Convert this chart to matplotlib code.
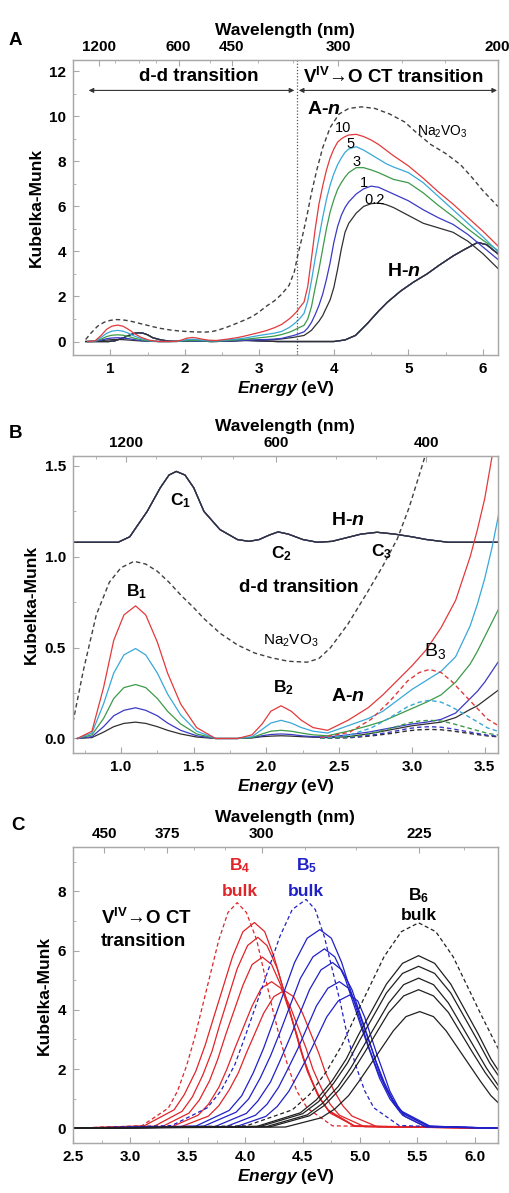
import numpy as np
import matplotlib
matplotlib.use("Agg")
import matplotlib.pyplot as plt

plt.rcParams.update({
    "font.family": "Liberation Sans",
    "font.weight": "bold",
    "axes.labelweight": "bold",
    "font.size": 11,
    "mathtext.fontset": "custom",
    "mathtext.rm": "Liberation Sans:bold",
    "mathtext.it": "Liberation Sans:italic:bold",
    "mathtext.bf": "Liberation Sans:bold",
})

# ---------------- panel A / B : measured spectra (energy in eV, Kubelka-Munk) ----------
an_energy = [0.70, 0.80, 0.88, 0.95, 1.02, 1.10, 1.17, 1.25, 1.32, 1.41,
             1.52, 1.65, 1.80, 1.90, 1.97, 2.03, 2.10, 2.17, 2.24, 2.32,
             2.42, 2.56, 2.70, 2.80, 2.90, 3.00, 3.10, 3.20, 3.30, 3.40,
             3.45, 3.50, 3.55, 3.60, 3.65, 3.70, 3.75, 3.80, 3.85, 3.90,
             3.95, 4.00, 4.05, 4.10, 4.15, 4.20, 4.30, 4.40, 4.50, 4.60,
             4.70, 4.80, 5.00, 5.20, 5.40, 5.60, 5.80, 6.00, 6.20]
an_labels = ["0.2", "1", "3", "5", "10"]
an_km = [
    # A-0.2
    [0.00, 0.005, 0.035, 0.065, 0.083, 0.09, 0.083, 0.065, 0.045, 0.025,
     0.008, 0.00, 0.00, 0.003, 0.01, 0.013, 0.015, 0.013, 0.01, 0.007,
     0.005, 0.01, 0.025, 0.04, 0.055, 0.07, 0.08, 0.09, 0.115, 0.16,
     0.18, 0.21, 0.24, 0.27, 0.38, 0.50, 0.70, 0.90, 1.15, 1.50,
     1.85, 2.40, 3.20, 4.10, 4.85, 5.25, 5.70, 6.00, 6.12, 6.15,
     6.08, 5.95, 5.60, 5.25, 5.05, 4.85, 4.45, 3.90, 3.25],
    # A-1
    [0.00, 0.01, 0.065, 0.125, 0.155, 0.169, 0.155, 0.125, 0.085, 0.045,
     0.015, 0.00, 0.00, 0.005, 0.015, 0.022, 0.025, 0.022, 0.015, 0.01,
     0.008, 0.02, 0.035, 0.05, 0.065, 0.08, 0.09, 0.105, 0.14, 0.22,
     0.26, 0.31, 0.37, 0.43, 0.60, 0.85, 1.20, 1.60, 2.10, 2.75,
     3.50, 4.40, 5.10, 5.60, 5.95, 6.20, 6.55, 6.78, 6.90, 6.85,
     6.70, 6.55, 6.25, 5.85, 5.50, 5.20, 4.75, 4.20, 3.65],
    # A-3
    [0.00, 0.02, 0.11, 0.22, 0.28, 0.297, 0.28, 0.22, 0.15, 0.08,
     0.025, 0.00, 0.00, 0.005, 0.025, 0.04, 0.045, 0.04, 0.03, 0.02,
     0.015, 0.04, 0.07, 0.095, 0.13, 0.165, 0.20, 0.24, 0.31, 0.41,
     0.48, 0.56, 0.64, 0.72, 1.00, 1.55, 2.40, 3.20, 4.10, 5.00,
     5.75, 6.30, 6.75, 7.05, 7.30, 7.50, 7.72, 7.72, 7.62, 7.50,
     7.35, 7.20, 7.05, 6.60, 6.05, 5.55, 5.00, 4.50, 4.05],
    # A-5
    [0.00, 0.03, 0.19, 0.36, 0.46, 0.495, 0.46, 0.36, 0.245, 0.13,
     0.04, 0.00, 0.00, 0.01, 0.05, 0.085, 0.10, 0.085, 0.06, 0.04,
     0.03, 0.07, 0.11, 0.15, 0.21, 0.27, 0.32, 0.37, 0.45, 0.62,
     0.74, 0.88, 1.05, 1.25, 1.80, 2.70, 3.70, 4.60, 5.50, 6.30,
     6.95, 7.45, 7.85, 8.15, 8.40, 8.55, 8.65, 8.50, 8.30, 8.10,
     7.90, 7.75, 7.50, 7.05, 6.45, 5.85, 5.25, 4.65, 4.00],
    # A-10
    [0.00, 0.04, 0.28, 0.54, 0.68, 0.73, 0.68, 0.53, 0.36, 0.19,
     0.06, 0.00, 0.00, 0.02, 0.08, 0.15, 0.18, 0.15, 0.10, 0.06,
     0.045, 0.10, 0.17, 0.24, 0.32, 0.40, 0.49, 0.61, 0.76, 1.00,
     1.15, 1.32, 1.55, 1.75, 2.45, 3.70, 5.00, 6.10, 6.90, 7.60,
     8.15, 8.55, 8.85, 9.00, 9.10, 9.17, 9.20, 9.10, 8.95, 8.75,
     8.50, 8.25, 7.80, 7.25, 6.65, 6.10, 5.50, 4.90, 4.25],
]

hn_energy = [0.67, 0.98, 1.06, 1.18, 1.27, 1.33, 1.38, 1.44, 1.50, 1.57,
             1.68, 1.80, 1.88, 1.95, 2.02, 2.08, 2.15, 2.25, 2.35, 2.45,
             2.55, 2.65, 2.76, 2.88, 3.00, 3.10, 3.25, 3.50, 4.00, 4.15,
             4.29, 4.45, 4.60, 4.72, 4.90, 5.07, 5.25, 5.41, 5.60, 5.76,
             5.93, 6.05, 6.20]
hn_km = [0.00, 0.00, 0.03, 0.17, 0.30, 0.37, 0.39, 0.37, 0.30, 0.17,
         0.07, 0.015, 0.005, 0.015, 0.04, 0.057, 0.045, 0.015, 0.00, 0.005,
         0.025, 0.045, 0.055, 0.045, 0.03, 0.015, 0.00, 0.00, 0.00, 0.07,
         0.27, 0.80, 1.35, 1.75, 2.25, 2.64, 3.00, 3.38, 3.80, 4.10,
         4.40, 4.30, 3.90]
hn_offset_b = 1.08

na_energy = [0.67, 0.74, 0.83, 0.92, 1.00, 1.09, 1.17, 1.25, 1.33, 1.41,
             1.50, 1.57, 1.68, 1.80, 1.92, 2.03, 2.15, 2.28, 2.36, 2.44,
             2.56, 2.69, 2.80, 2.90, 2.98, 3.05, 3.10, 3.20, 3.30, 3.40,
             3.47, 3.52, 3.58, 3.64, 3.70, 3.77, 3.85, 3.95, 4.07, 4.20,
             4.37, 4.55, 4.75, 4.95, 5.10, 5.30, 5.50, 5.70, 5.85, 6.00,
             6.20]
na_km = [0.09, 0.37, 0.68, 0.86, 0.94, 0.975, 0.96, 0.92, 0.86, 0.79,
         0.72, 0.66, 0.58, 0.515, 0.47, 0.445, 0.425, 0.42, 0.44, 0.50,
         0.63, 0.80, 0.95, 1.10, 1.27, 1.45, 1.58, 1.80, 2.10, 2.50,
         3.10, 3.90, 4.70, 5.60, 6.60, 7.60, 8.60, 9.50, 10.10, 10.35,
         10.42, 10.35, 10.10, 9.75, 9.30, 8.75, 8.35, 7.85, 7.30, 6.70,
         6.00]

# B3 band of each A-n sample (panel B, dashed)
b3_energy = [2.37, 2.57, 2.72, 2.85, 2.97, 3.05, 3.12, 3.20, 3.27, 3.40, 3.52, 3.67, 3.87]
b3_km = [
    [0.001, 0.004, 0.014, 0.027, 0.042, 0.048, 0.05, 0.048, 0.042, 0.027, 0.014, 0.004, 0.001],
    [0.001, 0.006, 0.018, 0.035, 0.054, 0.062, 0.065, 0.062, 0.054, 0.035, 0.018, 0.006, 0.001],
    [0.001, 0.009, 0.028, 0.055, 0.084, 0.096, 0.10, 0.096, 0.084, 0.055, 0.028, 0.009, 0.001],
    [0.002, 0.019, 0.058, 0.115, 0.175, 0.20, 0.21, 0.20, 0.175, 0.115, 0.058, 0.019, 0.002],
    [0.004, 0.034, 0.106, 0.207, 0.317, 0.363, 0.38, 0.363, 0.317, 0.207, 0.106, 0.034, 0.004],
]

# ---------------- panel C : V(IV)->O CT bands B4, B5, B6 (first = bulk) ----------------
b4_energy = [
    [2.50, 3.10, 3.33, 3.41, 3.49, 3.56, 3.63, 3.77, 3.85, 3.93, 4.01, 4.10, 4.23, 4.30, 4.37, 4.45, 4.54, 4.76, 6.20],
    [2.50, 3.12, 3.38, 3.47, 3.57, 3.65, 3.73, 3.89, 3.98, 4.08, 4.17, 4.25, 4.40, 4.47, 4.54, 4.63, 4.72, 4.95, 6.20],
    [2.50, 3.21, 3.45, 3.54, 3.63, 3.71, 3.78, 3.93, 4.02, 4.11, 4.19, 4.28, 4.42, 4.49, 4.56, 4.64, 4.73, 4.95, 6.20],
    [2.50, 3.28, 3.51, 3.60, 3.69, 3.76, 3.83, 3.98, 4.06, 4.15, 4.23, 4.31, 4.45, 4.51, 4.58, 4.66, 4.74, 4.96, 6.20],
    [2.50, 3.36, 3.59, 3.68, 3.77, 3.84, 3.91, 4.06, 4.14, 4.23, 4.31, 4.39, 4.53, 4.59, 4.66, 4.74, 4.82, 5.04, 6.20],
    [2.50, 3.44, 3.68, 3.77, 3.86, 3.94, 4.01, 4.16, 4.25, 4.34, 4.42, 4.50, 4.64, 4.70, 4.77, 4.85, 4.93, 5.15, 6.20],
]
b4_km = [
    [0, 0.08, 0.68, 1.25, 2.12, 3.06, 4.16, 6.36, 7.29, 7.62, 7.29, 6.36, 4.16, 3.06, 2.12, 1.25, 0.68, 0.08, 0],
    [0, 0.08, 0.62, 1.14, 1.93, 2.79, 3.80, 5.80, 6.64, 6.95, 6.64, 5.80, 3.80, 2.79, 1.93, 1.14, 0.62, 0.08, 0],
    [0, 0.07, 0.57, 1.06, 1.79, 2.59, 3.52, 5.39, 6.17, 6.45, 6.17, 5.39, 3.52, 2.59, 1.79, 1.06, 0.57, 0.07, 0],
    [0, 0.06, 0.51, 0.95, 1.61, 2.32, 3.16, 4.83, 5.53, 5.78, 5.53, 4.83, 3.16, 2.32, 1.61, 0.95, 0.51, 0.06, 0],
    [0, 0.05, 0.44, 0.81, 1.38, 1.99, 2.70, 4.13, 4.73, 4.95, 4.73, 4.13, 2.70, 1.99, 1.38, 0.81, 0.44, 0.05, 0],
    [0, 0.05, 0.41, 0.76, 1.29, 1.87, 2.54, 3.88, 4.45, 4.65, 4.45, 3.88, 2.54, 1.87, 1.29, 0.76, 0.41, 0.05, 0],
]
b5_energy = [
    [2.50, 3.36, 3.67, 3.79, 3.91, 4.00, 4.10, 4.30, 4.41, 4.53, 4.61, 4.69, 4.83, 4.89, 4.96, 5.04, 5.12, 5.34, 6.20],
    [2.50, 3.57, 3.86, 3.97, 4.07, 4.16, 4.25, 4.43, 4.54, 4.65, 4.75, 4.84, 5.00, 5.08, 5.16, 5.26, 5.35, 5.61, 6.20],
    [2.50, 3.64, 3.92, 4.03, 4.13, 4.22, 4.31, 4.48, 4.59, 4.69, 4.78, 4.87, 5.02, 5.10, 5.17, 5.26, 5.35, 5.59, 6.20],
    [2.50, 3.74, 4.01, 4.11, 4.22, 4.30, 4.39, 4.56, 4.66, 4.76, 4.84, 4.93, 5.07, 5.14, 5.21, 5.29, 5.38, 5.60, 6.20],
    [2.50, 3.83, 4.09, 4.19, 4.29, 4.37, 4.46, 4.62, 4.72, 4.82, 4.90, 4.97, 5.10, 5.16, 5.22, 5.30, 5.37, 5.57, 6.20],
    [2.50, 3.92, 4.18, 4.28, 4.38, 4.46, 4.55, 4.71, 4.81, 4.91, 4.98, 5.04, 5.15, 5.21, 5.26, 5.33, 5.39, 5.57, 6.20],
]
b5_km = [
    [0, 0.09, 0.69, 1.27, 2.15, 3.11, 4.22, 6.46, 7.39, 7.73, 7.39, 6.46, 4.22, 3.11, 2.15, 1.27, 0.69, 0.09, 0],
    [0, 0.07, 0.60, 1.10, 1.87, 2.70, 3.66, 5.60, 6.42, 6.71, 6.42, 5.60, 3.66, 2.70, 1.87, 1.10, 0.60, 0.07, 0],
    [0, 0.07, 0.54, 0.99, 1.69, 2.44, 3.31, 5.06, 5.79, 6.06, 5.79, 5.06, 3.31, 2.44, 1.69, 0.99, 0.54, 0.07, 0],
    [0, 0.06, 0.50, 0.92, 1.56, 2.25, 3.06, 4.68, 5.35, 5.60, 5.35, 4.68, 3.06, 2.25, 1.56, 0.92, 0.50, 0.06, 0],
    [0, 0.05, 0.44, 0.81, 1.38, 1.99, 2.70, 4.13, 4.73, 4.95, 4.73, 4.13, 2.70, 1.99, 1.38, 0.81, 0.44, 0.05, 0],
    [0, 0.05, 0.40, 0.74, 1.25, 1.81, 2.46, 3.76, 4.30, 4.50, 4.30, 3.76, 2.46, 1.81, 1.25, 0.74, 0.40, 0.05, 0],
]
b6_energy = [
    [2.50, 4.01, 4.41, 4.56, 4.71, 4.84, 4.96, 5.21, 5.36, 5.51, 5.66, 5.81, 6.06, 6.19, 6.31, 6.46, 6.61, 7.01],
    [2.50, 4.10, 4.48, 4.62, 4.76, 4.88, 4.99, 5.23, 5.37, 5.51, 5.65, 5.79, 6.03, 6.14, 6.26, 6.40, 6.54, 6.92],
    [2.50, 4.13, 4.50, 4.64, 4.77, 4.89, 5.00, 5.23, 5.37, 5.51, 5.65, 5.79, 6.02, 6.13, 6.25, 6.38, 6.52, 6.89],
    [2.50, 4.19, 4.54, 4.67, 4.81, 4.92, 5.03, 5.25, 5.38, 5.51, 5.64, 5.77, 5.99, 6.10, 6.21, 6.35, 6.48, 6.83],
    [2.50, 4.22, 4.56, 4.69, 4.82, 4.93, 5.04, 5.25, 5.38, 5.51, 5.64, 5.77, 5.98, 6.09, 6.20, 6.33, 6.46, 6.80],
    [2.50, 4.35, 4.66, 4.78, 4.90, 4.99, 5.09, 5.29, 5.40, 5.52, 5.64, 5.75, 5.95, 6.05, 6.14, 6.26, 6.38, 6.69],
]
b6_km = [
    [0, 0.08, 0.62, 1.14, 1.93, 2.79, 3.79, 5.80, 6.64, 6.94, 6.64, 5.80, 3.79, 2.79, 1.93, 1.14, 0.62, 0.08],
    [0, 0.06, 0.52, 0.96, 1.62, 2.34, 3.18, 4.87, 5.57, 5.83, 5.57, 4.87, 3.18, 2.34, 1.62, 0.96, 0.52, 0.06],
    [0, 0.06, 0.49, 0.90, 1.52, 2.20, 2.99, 4.57, 5.23, 5.47, 5.23, 4.57, 2.99, 2.20, 1.52, 0.90, 0.49, 0.06],
    [0, 0.06, 0.45, 0.83, 1.41, 2.04, 2.77, 4.23, 4.85, 5.07, 4.85, 4.23, 2.77, 2.04, 1.41, 0.83, 0.45, 0.06],
    [0, 0.05, 0.42, 0.77, 1.30, 1.88, 2.56, 3.91, 4.47, 4.68, 4.47, 3.91, 2.56, 1.88, 1.30, 0.77, 0.42, 0.05],
    [0, 0.04, 0.35, 0.65, 1.10, 1.58, 2.15, 3.29, 3.77, 3.94, 3.77, 3.29, 2.15, 1.58, 1.10, 0.65, 0.35, 0.04],
]

an_colors = ["#303030", "#3a3ac4", "#3c9a48", "#38a8d8", "#e23a3c"]
hn_colors = ["#e23a3c", "#3c9a48", "#38a8d8", "#5a3ab8", "#303030"]
dash = (0, (3.2, 2.2))
frame = "#a8a8a8"


def style(ax, xlim, ylim, xticks, yticks, xminor, yminor, xfmt, yfmt,
          wl_major, wl_minor):
    ax.set_xlim(xlim)
    ax.set_ylim(ylim)
    ax.set_xticks(xticks)
    ax.set_xticks(xminor, minor=True)
    ax.set_yticks(yticks)
    ax.set_yticks(yminor, minor=True)
    ax.set_xticklabels([xfmt.format(t) for t in xticks], fontweight="bold")
    ax.set_yticklabels([yfmt.format(t) for t in yticks], fontweight="bold")
    ax.tick_params(which="both", direction="in", color=frame, labelsize=11, pad=5)
    ax.tick_params(which="major", length=4)
    ax.tick_params(which="minor", length=2.5)
    ax.set_ylabel("Kubelka-Munk", fontsize=12.5, labelpad=4)
    ax.set_xlabel(r"$\it{Energy}$ (eV)", fontsize=12.5, labelpad=2)
    for s in ax.spines.values():
        s.set_color(frame)
        s.set_linewidth(0.9)

    top = ax.twiny()
    top.set_xlim(xlim)
    top.set_xticks([1239.84 / w for w in wl_major])
    top.set_xticklabels([str(w) for w in wl_major], fontweight="bold")
    top.set_xticks([1239.84 / w for w in wl_minor], minor=True)
    top.tick_params(which="both", direction="in", color=frame, labelsize=11, pad=4)
    top.tick_params(which="major", length=4)
    top.tick_params(which="minor", length=2.5)
    top.set_xlabel("Wavelength (nm)", fontsize=12.5, labelpad=4)
    for s in top.spines.values():
        s.set_color(frame)
        s.set_linewidth(0.9)


fig = plt.figure(figsize=(5.09, 11.93), dpi=100)
ax_a = fig.add_axes([0.1434, 0.7024, 0.8346, 0.2473])
ax_b = fig.add_axes([0.1434, 0.3688, 0.8346, 0.2490])
ax_c = fig.add_axes([0.1434, 0.0419, 0.8346, 0.2481])

# ---- panel A
for c in hn_colors:
    ax_a.plot(hn_energy, hn_km, color=c, lw=0.9)
for km, c in zip(an_km, an_colors):
    ax_a.plot(an_energy, km, color=c, lw=0.9)
ax_a.plot(na_energy, na_km, color="#404040", lw=1.0, ls=dash)
ax_a.axvline(3.5, color="#555555", lw=0.9, ls=(0, (1, 1.5)))
arrow = dict(arrowstyle="<|-|>", lw=0.8, color="#333333", mutation_scale=7,
             shrinkA=0, shrinkB=0)
ax_a.annotate("", xy=(0.71, 11.15), xytext=(3.47, 11.15), arrowprops=arrow)
ax_a.annotate("", xy=(3.53, 11.15), xytext=(6.19, 11.15), arrowprops=arrow)
ax_a.text(2.19, 11.75, "d-d transition", ha="center", va="center", fontsize=13.5)
ax_a.text(4.80, 11.75, "V$^{\\mathregular{IV}}$→O CT transition", ha="center",
          va="center", fontsize=13.5)
ax_a.text(3.86, 10.3, r"A-$\it{n}$", ha="center", va="center", fontsize=14)
ax_a.text(5.45, 9.3, "Na$_\\mathregular{2}$VO$_\\mathregular{3}$", ha="center",
          va="center", fontsize=10, fontweight="normal")
ax_a.text(4.94, 3.1, r"H-$\it{n}$", ha="center", va="center", fontsize=14)
for lbl, (x, y) in zip(an_labels, [(4.55, 6.3), (4.4, 7.05), (4.31, 7.97),
                                   (4.23, 8.75), (4.13, 9.5)]):
    ax_a.text(x, y, lbl, ha="center", va="center", fontsize=10.5, fontweight="normal")
style(ax_a, (0.7, 6.2), (-0.6, 12.5), [1, 2, 3, 4, 5, 6], [0, 2, 4, 6, 8, 10, 12],
      np.arange(0.5, 6.3, 0.5), np.arange(-0, 12.6, 1), "{:.0f}", "{:.0f}",
      [1200, 600, 450, 300, 200], [1000, 800, 700, 500, 400, 350, 250, 225])

# ---- panel B
for c in hn_colors:
    ax_b.plot(hn_energy, np.array(hn_km) + hn_offset_b, color=c, lw=0.9)
for km, c in zip(an_km, an_colors):
    ax_b.plot(an_energy, km, color=c, lw=0.9)
for km, c in zip(b3_km, an_colors):
    ax_b.plot(b3_energy, km, color=c, lw=1.0, ls=dash)
ax_b.plot(na_energy, na_km, color="#404040", lw=1.0, ls=dash)
ax_b.text(1.41, 1.31, "C$_\\mathregular{1}$", ha="center", va="center", fontsize=12.5)
ax_b.text(2.10, 1.02, "C$_\\mathregular{2}$", ha="center", va="center", fontsize=12.5)
ax_b.text(2.79, 1.03, "C$_\\mathregular{3}$", ha="center", va="center", fontsize=12.5)
ax_b.text(2.56, 1.20, r"H-$\it{n}$", ha="center", va="center", fontsize=14)
ax_b.text(1.11, 0.81, "B$_\\mathregular{1}$", ha="center", va="center", fontsize=12.5)
ax_b.text(2.22, 0.83, "d-d transition", ha="center", va="center", fontsize=13.5)
ax_b.text(2.17, 0.54, "Na$_\\mathregular{2}$VO$_\\mathregular{3}$", ha="center",
          va="center", fontsize=11, fontweight="normal")
ax_b.text(2.12, 0.28, "B$_\\mathregular{2}$", ha="center", va="center", fontsize=12.5)
ax_b.text(2.56, 0.23, r"A-$\it{n}$", ha="center", va="center", fontsize=14)
ax_b.text(3.16, 0.48, "B$_\\mathregular{3}$", ha="center", va="center", fontsize=14,
          fontweight="normal")
style(ax_b, (0.67, 3.59), (-0.08, 1.555), [1.0, 1.5, 2.0, 2.5, 3.0, 3.5],
      [0.0, 0.5, 1.0, 1.5], np.arange(0.75, 3.6, 0.25), np.arange(0, 1.55, 0.25),
      "{:.1f}", "{:.1f}", [1200, 600, 400], [1500, 1000, 800, 700, 500, 450])

# ---- panel C
for es, kms, col in [(b4_energy, b4_km, "#e02428"),
                     (b5_energy, b5_km, "#2020c8"),
                     (b6_energy, b6_km, "#202020")]:
    for i, (e, km) in enumerate(zip(es, kms)):
        ax_c.plot(e, km, color=col, lw=0.9, ls=dash if i == 0 else "-")
ax_c.text(3.95, 8.86, "B$_\\mathregular{4}$", color="#e02428", ha="center", va="center", fontsize=12.5)
ax_c.text(3.95, 8.0, "bulk", color="#e02428", ha="center", va="center", fontsize=12.5)
ax_c.text(4.53, 8.86, "B$_\\mathregular{5}$", color="#2020c8", ha="center", va="center", fontsize=12.5)
ax_c.text(4.53, 8.0, "bulk", color="#2020c8", ha="center", va="center", fontsize=12.5)
ax_c.text(5.51, 7.86, "B$_\\mathregular{6}$", ha="center", va="center", fontsize=12.5)
ax_c.text(5.51, 7.2, "bulk", ha="center", va="center", fontsize=12.5)
ax_c.text(3.14, 7.1, "V$^{\\mathregular{IV}}$→O CT", ha="center", va="center", fontsize=13.5)
ax_c.text(3.11, 6.3, "transition", ha="center", va="center", fontsize=13.5)
style(ax_c, (2.5, 6.2), (-0.5, 9.5), [2.5, 3.0, 3.5, 4.0, 4.5, 5.0, 5.5, 6.0],
      [0, 2, 4, 6, 8], np.arange(2.5, 6.21, 0.25), np.arange(0, 9.1, 1),
      "{:.1f}", "{:.0f}", [450, 375, 300, 225], [500, 400, 350, 325, 275, 250, 210])

fig.text(0.03, 0.966, "A", fontsize=13.5, ha="center", va="center")
fig.text(0.03, 0.637, "B", fontsize=13.5, ha="center", va="center")
fig.text(0.035, 0.308, "C", fontsize=13.5, ha="center", va="center")

fig.savefig("out.png", dpi=100)
